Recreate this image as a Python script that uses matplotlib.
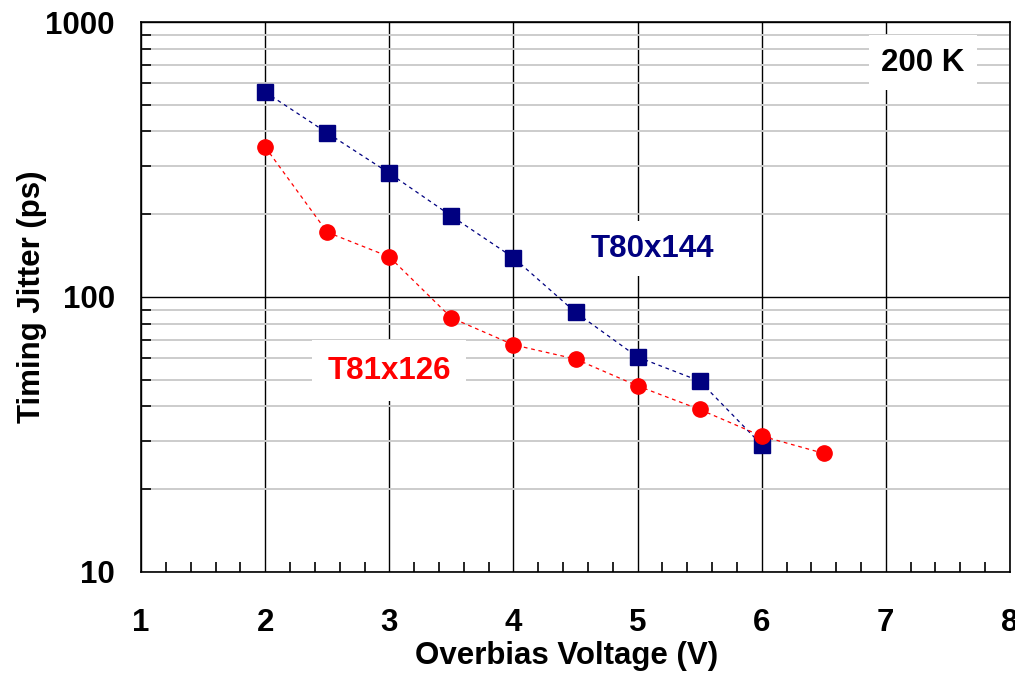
import matplotlib.pyplot as plt
from matplotlib.ticker import MultipleLocator, LogLocator, NullFormatter

plt.rcParams['font.family'] = ['Liberation Sans', 'DejaVu Sans']
plt.rcParams['font.weight'] = 'bold'

# dati
v_t80 = [2.0, 2.5, 3.0, 3.5, 4.0, 4.5, 5.0, 5.5, 6.0]
jit_t80 = [556, 395, 282, 197, 139, 88, 60.5, 49.5, 29]

v_t81 = [2.0, 2.5, 3.0, 3.5, 4.0, 4.5, 5.0, 5.5, 6.0, 6.5]
jit_t81 = [351, 172, 140, 84, 67, 59.5, 47.5, 39, 31.2, 27]

x_ticks = [1, 2, 3, 4, 5, 6, 7, 8]
y_ticks = [10, 100, 1000]

FS = 22.5

fig = plt.figure(figsize=(10.15, 6.75), dpi=100)
ax = fig.add_axes([0.139, 0.1526, 0.856, 0.8148])

ax.set_yscale('log')
ax.set_xlim(1, 8)
ax.set_ylim(10, 1000)

# griglia
ax.yaxis.set_minor_locator(LogLocator(base=10, subs=range(2, 10)))
ax.yaxis.set_minor_formatter(NullFormatter())
ax.xaxis.set_minor_locator(MultipleLocator(0.2))
ax.grid(which='minor', axis='y', color='#cccccc', lw=1.4)
ax.grid(which='major', color='black', lw=1.0)
ax.set_axisbelow(True)

ax.plot(v_t80, jit_t80, ls=(0, (3, 3)), lw=0.9, color='#000080',
        marker='s', ms=11, mfc='#000080', mec='#000080', zorder=3)
ax.plot(v_t81, jit_t81, ls=(0, (3, 3)), lw=0.9, color='#ff0000',
        marker='o', ms=11, mfc='#ff0000', mec='#ff0000', zorder=4)

ax.set_xticks(x_ticks)
ax.set_yticks(y_ticks)
ax.set_yticklabels([str(t) for t in y_ticks])
ax.tick_params(axis='both', which='major', length=0, labelsize=FS)
ax.tick_params(axis='y', which='major', pad=19)
ax.tick_params(axis='x', which='major', pad=26)
ax.tick_params(axis='x', which='minor', direction='in', length=7, width=1.2, top=False)
ax.tick_params(axis='y', which='minor', direction='in', length=7, width=1.2, right=False)
for s in ax.spines.values():
    s.set_linewidth(1.2)

ax.set_xlabel('Overbias Voltage (V)', fontsize=FS, fontweight='bold')
ax.set_ylabel('Timing Jitter (ps)', fontsize=FS, fontweight='bold')
ax.xaxis.set_label_coords(0.49, -0.125)
ax.yaxis.set_label_coords(-0.108, 0.5)

ax.text(5.12, 150, 'T80x144', color='#000080', fontsize=FS, fontweight='bold',
        ha='center', va='center', bbox=dict(facecolor='white', edgecolor='none', pad=9), zorder=5)
ax.text(3.0, 54, 'T81x126', color='#ff0000', fontsize=FS, fontweight='bold',
        ha='center', va='center', bbox=dict(facecolor='white', edgecolor='none', pad=11), zorder=5)
ax.text(7.3, 710, '200 K', color='black', fontsize=FS, fontweight='bold',
        ha='center', va='center', bbox=dict(facecolor='white', edgecolor='none', pad=9), zorder=5)

fig.savefig('out.png', dpi=100)
